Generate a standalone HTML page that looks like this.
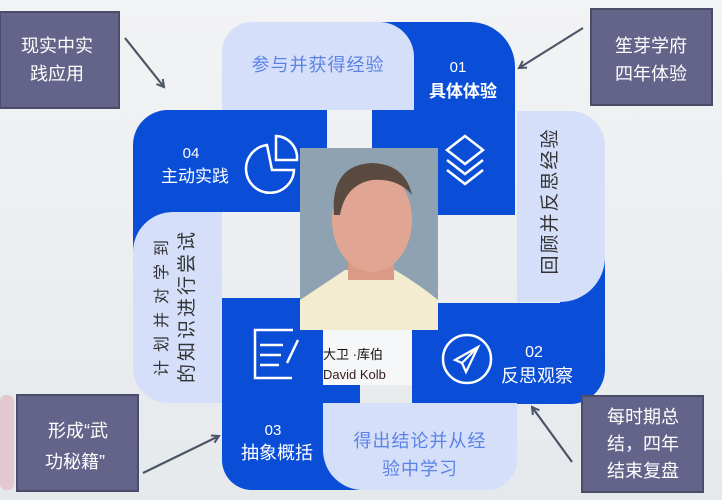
<!DOCTYPE html>
<html><head><meta charset="utf-8"><style>
body{margin:0;width:722px;height:500px;overflow:hidden;background:#eceff1;font-family:"Liberation Sans","Noto Sans CJK SC",sans-serif}
svg{position:absolute;left:0;top:0}
text{font-family:"Liberation Sans","Noto Sans CJK SC",sans-serif}
</style></head><body>
<svg width="722" height="500" viewBox="0 0 722 500">
<defs>
<linearGradient id="bg" x1="0" y1="0" x2="0" y2="1"><stop offset="0" stop-color="#f2f3f4"/><stop offset="1" stop-color="#e6e9ec"/></linearGradient>
<marker id="ah" markerWidth="10" markerHeight="10" refX="8" refY="5" orient="auto" markerUnits="userSpaceOnUse"><path d="M1,1 L8,5 L1,9" fill="none" stroke="#4b5566" stroke-width="2"/></marker>
</defs>
<rect width="722" height="500" fill="url(#bg)"/>
<rect x="0" y="395" width="14" height="95" rx="6" fill="#e3c8cf"/>
<!-- blue shapes -->
<path d="M372,22 H470 A45,45 0 0 1 515,67 V215 H372 Z" fill="#0a4ed8"/>
<path d="M412,303 H560 V240 H605 V369 A35,35 0 0 1 570,404 H412 Z" fill="#0a4ed8"/>
<path d="M222,298 H360 V490 H252 A30,30 0 0 1 222,460 Z" fill="#0a4ed8"/>
<path d="M168,110 H327 V212 H185 V250 H133 V145 A35,35 0 0 1 168,110 Z" fill="#0a4ed8"/>
<!-- light shapes -->
<path d="M252,22 H379 A35,35 0 0 1 414,57 V110 H222 V52 A30,30 0 0 1 252,22 Z" fill="#d5dffa"/>
<path d="M517,111 H570 A35,35 0 0 1 605,146 V257 A45,45 0 0 1 560,302 H517 Z" fill="#d5dffa"/>
<path d="M323,403 H517 V460 A30,30 0 0 1 487,490 H363 A40,40 0 0 1 323,450 Z" fill="#d5dffa"/>
<path d="M173,212 H222 V403 H168 A35,35 0 0 1 133,368 V252 A40,40 0 0 1 173,212 Z" fill="#d5dffa"/>
<!-- photo -->
<rect x="300" y="148" width="138" height="182" fill="#8ea2b2"/>
<path d="M300,330 V300 Q330,280 345,270 L395,270 Q420,285 438,300 V330 Z" fill="#f3ecd0"/>
<rect x="348" y="240" width="46" height="40" fill="#d99a86"/>
<ellipse cx="372" cy="220" rx="40" ry="52" fill="#e0a593"/>
<path d="M334,215 Q330,165 372,163 Q405,164 412,195 Q398,178 372,180 Q345,185 340,215 Z" fill="#5a4a40"/>
<rect x="323" y="330" width="89" height="55" fill="#f6f7f8"/>
<text x="323" y="359" font-size="13" fill="#111">大卫 ·库伯</text>
<text x="323" y="379" font-size="13" fill="#3a1a1a">David Kolb</text>
<!-- labels -->
<text x="318" y="71" font-size="18" fill="#5b83e6" text-anchor="middle" letter-spacing="1">参与并获得经验</text>
<text x="458" y="72" font-size="15" fill="#fff" text-anchor="middle">01</text>
<text x="463" y="97" font-size="17" fill="#fff" text-anchor="middle" font-weight="bold">具体体验</text>
<g fill="none" stroke="#fff" stroke-width="2.5"><path d="M465,136 L483,150 L465,164 L447,150 Z"/><path d="M447,160 L465,174 L483,160"/><path d="M447,170 L465,184 L483,170"/></g>
<text x="191" y="158" font-size="15" fill="#fff" text-anchor="middle">04</text>
<text x="195" y="182" font-size="17" fill="#fff" text-anchor="middle">主动实践</text>
<g fill="none" stroke="#fff" stroke-width="2.5"><path d="M267,145 A24,24 0 1 0 294,170 L272,170 Z"/><path d="M276,136 A22,22 0 0 1 297,160 L276,160 Z"/></g>
<text transform="translate(556,201) rotate(-90)" font-size="19" fill="#333" text-anchor="middle" letter-spacing="2">回顾并反思经验</text>
<text transform="translate(167,304) rotate(-90)" font-size="16" fill="#333" text-anchor="middle" letter-spacing="8">计划并对学到</text>
<text transform="translate(193,306) rotate(-90)" font-size="19" fill="#333" text-anchor="middle" letter-spacing="3">的知识进行尝试</text>
<g fill="none" stroke="#fff" stroke-width="2.5"><path d="M293,330 H255 V378 H292"/><path d="M260,345 H283 M260,355 H281 M260,365 H279"/><path d="M298,340 L287,363"/></g>
<circle cx="467" cy="359" r="24" fill="none" stroke="#fff" stroke-width="2.5"/>
<path d="M478,347 L455,360 L462,363 L466,372 Z M462,363 L478,347" fill="none" stroke="#fff" stroke-width="2.2"/>
<text x="534" y="357" font-size="16" fill="#fff" text-anchor="middle">02</text>
<text x="537" y="382" font-size="18" fill="#fff" text-anchor="middle">反思观察</text>
<text x="273" y="435" font-size="15" fill="#fff" text-anchor="middle">03</text>
<text x="277" y="459" font-size="18" fill="#fff" text-anchor="middle">抽象概括</text>
<text x="420" y="447" font-size="18" fill="#5b83e6" text-anchor="middle" letter-spacing="1">得出结论并从经</text>
<text x="420" y="475" font-size="18" fill="#5b83e6" text-anchor="middle" letter-spacing="1">验中学习</text>
<!-- callouts -->
<g fill="#64648a" stroke="#4a4d68" stroke-width="2">
<rect x="0" y="12" width="119" height="96"/>
<rect x="591" y="9" width="121" height="96"/>
<rect x="17" y="395" width="121" height="96"/>
<rect x="582" y="396" width="121" height="96"/>
</g>
<g font-size="18" fill="#fff" text-anchor="middle">
<text x="57" y="52">现实中实</text><text x="57" y="80">践应用</text>
<text x="651" y="52">笙芽学府</text><text x="651" y="80">四年体验</text>
<text x="78" y="437">形成“武</text><text x="75" y="468">功秘籍”</text>
<text x="643" y="423">每时期总</text><text x="643" y="450">结，四年</text><text x="643" y="477">结束复盘</text>
</g>
<g stroke="#4b5566" stroke-width="2.2" fill="none">
<line x1="125" y1="38" x2="164" y2="87" marker-end="url(#ah)"/>
<line x1="583" y1="28" x2="519" y2="68" marker-end="url(#ah)"/>
<line x1="143" y1="473" x2="219" y2="436" marker-end="url(#ah)"/>
<line x1="572" y1="462" x2="532" y2="407" marker-end="url(#ah)"/>
</g>
</svg>
</body></html>
